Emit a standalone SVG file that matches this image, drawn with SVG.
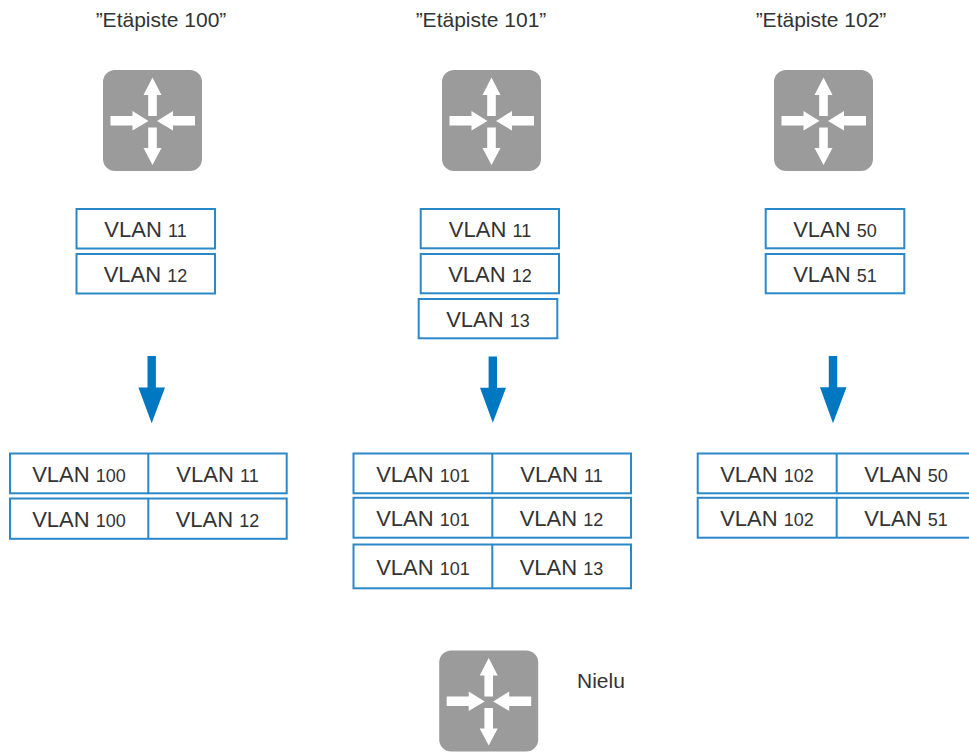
<svg xmlns="http://www.w3.org/2000/svg" xmlns:xlink="http://www.w3.org/1999/xlink" width="969" height="752" viewBox="0 0 969 752">
<style>
  text { font-family: "Liberation Sans", Arial, sans-serif; fill: #333333; }
  .title { font-size: 21px; text-anchor: middle; }
  .lbl { font-size: 22px; text-anchor: middle; }
  .num { font-size: 18px; }
  .box { fill: #ffffff; stroke: #2b88c8; stroke-width: 2; }
  .div { stroke: #2b88c8; stroke-width: 2; }
  .flow { fill: #0077c1; }
</style>
<defs>
  <g id="router">
    <rect x="-49.5" y="-50.5" width="99" height="101" rx="12" ry="12" fill="#9b9b9b"/>
    <g fill="#ffffff">
      <polygon points="0,-43 9,-25.5 4.3,-25.5 4.3,-4.5 -4.3,-4.5 -4.3,-25.5 -9,-25.5"/>
      <polygon points="0,44.5 9,27.5 4.3,27.5 4.3,7 -4.3,7 -4.3,27.5 -9,27.5"/>
      <polygon points="-42,-4.5 -20,-4.5 -20,-9.5 -4,0.5 -20,10 -20,5 -42,5"/>
      <polygon points="42.5,-4.5 20.5,-4.5 20.5,-9.5 4.5,0.5 20.5,10 20.5,5 42.5,5"/>
    </g>
  </g>
</defs>

<g id="site100">
  <text class="title" x="161" y="27">”Etäpiste 100”</text>
  <use xlink:href="#router" href="#router" x="152.5" y="120.5"/>
</g>
<g id="site101">
  <text class="title" x="481" y="27">”Etäpiste 101”</text>
  <use xlink:href="#router" href="#router" x="491.5" y="120.5"/>
</g>
<g id="site102">
  <text class="title" x="821" y="27">”Etäpiste 102”</text>
  <use xlink:href="#router" href="#router" x="823.5" y="120.5"/>
</g>
<g id="sink">
  <use xlink:href="#router" href="#router" x="488.7" y="701"/>
  <text x="577" y="688" style="font-size:21px">Nielu</text>
</g>

<g id="vlans100">
  <g id="v100-11"><rect class="box" x="76.5" y="209" width="138.5" height="39.5"/><text class="lbl" x="145.5" y="237">VLAN <tspan class="num">11</tspan></text></g>
  <g id="v100-12"><rect class="box" x="76.5" y="254" width="138.5" height="39.5"/><text class="lbl" x="145.5" y="282">VLAN <tspan class="num">12</tspan></text></g>
</g>
<g id="vlans101">
  <g id="v101-11"><rect class="box" x="420.7" y="209" width="138.3" height="39.3"/><text class="lbl" x="490" y="237">VLAN <tspan class="num">11</tspan></text></g>
  <g id="v101-12"><rect class="box" x="420.7" y="254" width="138.3" height="39.3"/><text class="lbl" x="490" y="282">VLAN <tspan class="num">12</tspan></text></g>
  <g id="v101-13"><rect class="box" x="418.7" y="299" width="138.6" height="39.3"/><text class="lbl" x="488" y="327">VLAN <tspan class="num">13</tspan></text></g>
</g>
<g id="vlans102">
  <g id="v102-50"><rect class="box" x="765.7" y="209" width="138.6" height="39.3"/><text class="lbl" x="835" y="237">VLAN <tspan class="num">50</tspan></text></g>
  <g id="v102-51"><rect class="box" x="765.7" y="254" width="138.6" height="39.3"/><text class="lbl" x="835" y="282">VLAN <tspan class="num">51</tspan></text></g>
</g>

<g id="connectors">
  <polygon class="flow" points="147.5,356 155.9,356 155.9,387.5 165,387.5 151.7,423.3 138.4,387.5 147.5,387.5"/>
  <polygon class="flow" points="488.6,356.5 497,356.5 497,387.7 506,387.7 492.8,422.8 480,387.7 488.6,387.7"/>
  <polygon class="flow" points="828.8,356 837.2,356 837.2,387.3 846.5,387.3 833,423.3 820,387.3 828.8,387.3"/>
</g>

<g id="table100">
  <g id="t100-11"><rect class="box" x="10" y="453.5" width="276.7" height="39.8"/><line class="div" x1="148.3" y1="453.5" x2="148.3" y2="493.3"/><text class="lbl" x="79" y="482">VLAN <tspan class="num">100</tspan></text><text class="lbl" x="217.5" y="482">VLAN <tspan class="num">11</tspan></text></g>
  <g id="t100-12"><rect class="box" x="10" y="498.5" width="276.7" height="40.3"/><line class="div" x1="148.3" y1="498.5" x2="148.3" y2="538.8"/><text class="lbl" x="79" y="527">VLAN <tspan class="num">100</tspan></text><text class="lbl" x="217.5" y="527">VLAN <tspan class="num">12</tspan></text></g>
</g>
<g id="table101">
  <g id="t101-11"><rect class="box" x="353.5" y="453.5" width="277.5" height="39.8"/><line class="div" x1="492.3" y1="453.5" x2="492.3" y2="493.3"/><text class="lbl" x="423" y="482">VLAN <tspan class="num">101</tspan></text><text class="lbl" x="561.5" y="482">VLAN <tspan class="num">11</tspan></text></g>
  <g id="t101-12"><rect class="box" x="353.5" y="497.8" width="277.5" height="39.9"/><line class="div" x1="492.3" y1="497.8" x2="492.3" y2="537.7"/><text class="lbl" x="423" y="526">VLAN <tspan class="num">101</tspan></text><text class="lbl" x="561.5" y="526">VLAN <tspan class="num">12</tspan></text></g>
  <g id="t101-13"><rect class="box" x="353.5" y="544.5" width="277.5" height="43.8"/><line class="div" x1="492.3" y1="544.5" x2="492.3" y2="588.3"/><text class="lbl" x="423" y="575">VLAN <tspan class="num">101</tspan></text><text class="lbl" x="561.5" y="575">VLAN <tspan class="num">13</tspan></text></g>
</g>
<g id="table102">
  <g id="t102-50"><rect class="box" x="697.7" y="453.5" width="277.5" height="39.8"/><line class="div" x1="836.7" y1="453.5" x2="836.7" y2="493.3"/><text class="lbl" x="767" y="482">VLAN <tspan class="num">102</tspan></text><text class="lbl" x="906" y="482">VLAN <tspan class="num">50</tspan></text></g>
  <g id="t102-51"><rect class="box" x="697.7" y="497.8" width="277.5" height="39.9"/><line class="div" x1="836.7" y1="497.8" x2="836.7" y2="537.7"/><text class="lbl" x="767" y="526">VLAN <tspan class="num">102</tspan></text><text class="lbl" x="906" y="526">VLAN <tspan class="num">51</tspan></text></g>
</g>
</svg>
